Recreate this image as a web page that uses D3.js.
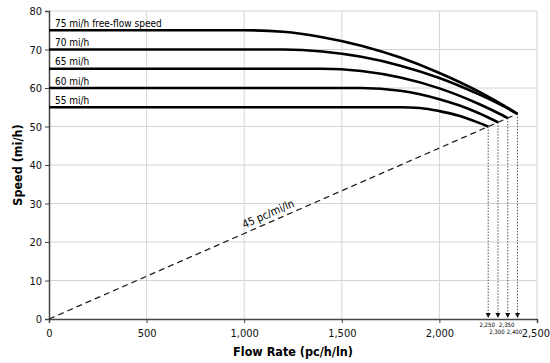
<!DOCTYPE html>
<html>
<head>
<meta charset="utf-8">
<script src="https://cdn.jsdelivr.net/npm/d3@7"></script>
<style>
  body { margin: 0; background: #fff; }
  svg { display: block; font-family: "DejaVu Sans", sans-serif; }
</style>
</head>
<body>
<div id="chart"></div>
<script>
// speed-flow curves, one per free-flow speed: [flow pc/h/ln, speed mi/h]
var ffsLabels = ["75 mi/h free-flow speed", "70 mi/h", "65 mi/h", "60 mi/h", "55 mi/h"];
var curve75 = [[0, 75], [1000, 75], [1200, 74.6], [1400, 73.2], [1600, 71.0], [1800, 67.9], [2000, 63.9], [2200, 59.1], [2300, 56.3], [2400, 53.3]];
var curve70 = [[0, 70], [1200, 70], [1400, 69.5], [1600, 68.1], [1800, 65.8], [2000, 62.6], [2200, 58.4], [2300, 56.0], [2400, 53.3]];
var curve65 = [[0, 65], [1400, 65], [1600, 64.4], [1800, 62.7], [2000, 59.9], [2200, 55.9], [2300, 53.5], [2350, 52.2]];
var curve60 = [[0, 60], [1600, 60], [1800, 59.3], [1900, 58.4], [2000, 57.1], [2100, 55.5], [2200, 53.5], [2300, 51.1]];
var curve55 = [[0, 55], [1800, 55], [1900, 54.8], [2000, 54.0], [2100, 52.8], [2200, 51.0], [2250, 50.0]];
// capacity points (where each curve meets the 45 pc/mi/ln density line)
var capacityFlow = [2250, 2300, 2350, 2400];
var capacitySpeed = [50.0, 51.1, 52.2, 53.3];
var capacityLabels = ["2,250", "2,300", "2,350", "2,400"];
var densityLine = [[0, 0], [2400, 53.3]];
var xTicks = [0, 500, 1000, 1500, 2000, 2500];
var yTicks = [0, 10, 20, 30, 40, 50, 60, 70, 80];

var curves = [curve75, curve70, curve65, curve60, curve55];

var width = 550, height = 363;
var margin = {left: 49, right: 13, top: 11, bottom: 44};
var fontC = "DejaVu Sans Condensed, DejaVu Sans, sans-serif";

var svg = d3.select("#chart").append("svg")
    .attr("width", width)
    .attr("height", height);

var x = d3.scaleLinear().domain([0, 2500]).range([margin.left, width - margin.right]);
var y = d3.scaleLinear().domain([0, 80]).range([height - margin.bottom, margin.top]);

// gridlines
svg.append("g").selectAll("line.gx")
    .data(xTicks.slice(1))
    .enter().append("line")
    .attr("x1", d => x(d)).attr("x2", d => x(d))
    .attr("y1", y(0)).attr("y2", y(80))
    .attr("stroke", "#d4d4d4").attr("stroke-width", 1);
svg.append("g").selectAll("line.gy")
    .data(yTicks.slice(1))
    .enter().append("line")
    .attr("x1", x(0)).attr("x2", x(2500))
    .attr("y1", d => y(d)).attr("y2", d => y(d))
    .attr("stroke", "#d4d4d4").attr("stroke-width", 1);

// axes
var xAxis = svg.append("g")
    .attr("transform", "translate(0," + y(0) + ")")
    .call(d3.axisBottom(x).tickValues(xTicks).tickSize(4).tickPadding(6).tickFormat(d3.format(",")));
var yAxis = svg.append("g")
    .attr("transform", "translate(" + x(0) + ",0)")
    .call(d3.axisLeft(y).tickValues(yTicks).tickSize(4).tickPadding(3));
[xAxis, yAxis].forEach(function (a) {
    a.select(".domain").attr("stroke", "#444").attr("stroke-width", 1.5);
    a.selectAll(".tick line").attr("stroke", "#444");
    a.selectAll("text").attr("fill", "#111").style("font-size", "11px").style("font-family", fontC);
});
// last x label sits against the right edge
xAxis.selectAll(".tick text").filter(d => d === 2500)
    .attr("text-anchor", "end").attr("dx", 12.5);

// density line (45 pc/mi/ln)
var line = d3.line().x(d => x(d[0])).y(d => y(d[1]));
svg.append("path")
    .attr("d", line(densityLine))
    .attr("fill", "none")
    .attr("stroke", "#222")
    .attr("stroke-width", 1.3)
    .attr("stroke-dasharray", "6,4");

var ang = Math.atan2(y(densityLine[1][1]) - y(0), x(densityLine[1][0]) - x(0)) * 180 / Math.PI;
var lx = x(1130), ly = y(1130 / 45) - 5;
svg.append("text")
    .attr("transform", "translate(" + lx + "," + ly + ") rotate(" + ang + ")")
    .attr("text-anchor", "middle")
    .style("font-size", "11px")
    .style("font-family", fontC)
    .text("45 pc/mi/ln");

// dotted drop lines with arrows
capacityFlow.forEach(function (f, i) {
    svg.append("line")
        .attr("x1", x(f)).attr("x2", x(f))
        .attr("y1", y(capacitySpeed[i])).attr("y2", y(0) - 5)
        .attr("stroke", "#555").attr("stroke-width", 1)
        .attr("stroke-dasharray", "1.5,1.5");
    svg.append("path")
        .attr("d", "M" + (x(f) - 2.5) + "," + (y(0) - 6) + "L" + (x(f) + 2.5) + "," + (y(0) - 6) + "L" + x(f) + "," + (y(0) - 1) + "Z")
        .attr("fill", "#111");
    svg.append("text")
        .attr("x", x(f) - (i === 3 ? 3 : 1))
        .attr("y", y(0) + (i % 2 === 0 ? 8 : 15))
        .attr("text-anchor", "middle")
        .style("font-size", "6px")
        .style("font-family", fontC)
        .text(capacityLabels[i]);
});

// speed-flow curves
var curveLine = d3.line().x(d => x(d[0])).y(d => y(d[1])).curve(d3.curveMonotoneX);
svg.append("g").selectAll("path")
    .data(curves)
    .enter().append("path")
    .attr("d", d => curveLine(d))
    .attr("fill", "none")
    .attr("stroke", "#000")
    .attr("stroke-width", 2.6);

svg.append("g").selectAll("text")
    .data(curves)
    .enter().append("text")
    .attr("x", x(0) + 6)
    .attr("y", d => y(d[0][1]) - 3.5)
    .style("font-size", "10px")
    .style("font-family", fontC)
    .text((d, i) => ffsLabels[i]);

// axis titles
svg.append("text")
    .attr("x", (x(0) + x(2500)) / 2)
    .attr("y", 356)
    .attr("text-anchor", "middle")
    .style("font-size", "12.5px")
    .style("font-weight", "bold")
    .style("font-family", fontC)
    .text("Flow Rate (pc/h/ln)");
svg.append("text")
    .attr("transform", "translate(22," + (y(40)) + ") rotate(-90)")
    .attr("text-anchor", "middle")
    .style("font-size", "12.5px")
    .style("font-weight", "bold")
    .style("font-family", fontC)
    .text("Speed (mi/h)");
</script>
</body>
</html>
